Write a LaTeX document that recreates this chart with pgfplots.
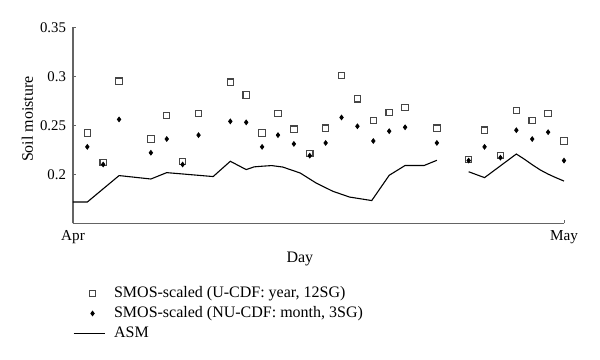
\documentclass[border=0pt]{standalone}
\usepackage{pgfplots}
\pgfplotsset{compat=1.18}
\usepackage{fontspec}
\setmainfont{Liberation Serif}
\definecolor{axisgray}{RGB}{100,100,100}
\definecolor{sqgray}{RGB}{70,70,70}
\pgfplotsset{
  markleg/.style={legend image code/.code={\path (0pt,0pt) (15.5pt,0pt); \draw[##1] plot coordinates {(9.5pt,0pt)};}},
  lineleg/.style={legend image code/.code={\draw[##1] (0pt,0pt) -- (15.5pt,0pt);}},
}
\begin{document}
\begin{tikzpicture}[font=\fontsize{8}{9.6}\selectfont]
\path[use as bounding box] (0,0) rectangle (300pt,179.5pt);
\begin{axis}[
  at={(36.5pt,67.85pt)}, anchor=south west,
  scale only axis, width=245.5pt, height=98pt,
  xmin=0.1, xmax=31, ymin=0.15, ymax=0.35,
  axis x line*=bottom, axis y line*=left,
  axis line style={draw=axisgray, line width=0.6pt},
  tick align=inside, major tick length=1.7pt,
  tick style={draw=axisgray, line width=0.5pt},
  xtick={0.1,31}, xticklabels={Apr,May},
  ytick={0.2,0.25,0.3,0.35},
  yticklabel style={/pgf/number format/fixed, font=\fontsize{7.4}{8.8}\selectfont},
  xticklabel style={font=\fontsize{7.6}{9}\selectfont},
  /pgf/number format/assume math mode=true,
  minor tick num=0,
  xlabel={Day}, ylabel={Soil moisture},
  xlabel style={at={(axis description cs:0.462,-0.184)}, anchor=center},
  ylabel style={at={(axis description cs:-0.0927,0.532)}, anchor=center},
  unbounded coords=jump,
  legend cell align=left,
  legend style={draw=none, fill=none, inner sep=0pt, outer sep=0pt,
    at={(axis description cs:0,-0.312)}, anchor=north west,
    row sep=1pt, column sep=4pt,
    nodes={inner sep=0.5pt, text height=6pt, text depth=2pt}},
]
\addplot[only marks, mark=square, mark size=1.6pt, mark options={draw=sqgray, line width=0.55pt}, markleg] coordinates {
(1,0.242) (2,0.212) (3,0.295) (5,0.236) (6,0.260) (7,0.213) (8,0.262)
(10,0.294) (11,0.281) (12,0.242) (13,0.262) (14,0.246) (15,0.221) (16,0.247)
(17,0.301) (18,0.277) (19,0.255) (20,0.263) (21,0.268) (23,0.247)
(25,0.215) (26,0.245) (27,0.219) (28,0.265) (29,0.255) (30,0.262) (31,0.234)
};
\addlegendentry{SMOS-scaled (U-CDF: year, 12SG)}
\addplot[only marks, mark=diamond*, mark size=1.15pt, mark options={fill=black, draw=black}, markleg] coordinates {
(1,0.228) (2,0.210) (3,0.256) (5,0.222) (6,0.236) (7,0.210) (8,0.240)
(10,0.254) (11,0.253) (12,0.228) (13,0.240) (14,0.231) (15,0.219) (16,0.232)
(17,0.258) (18,0.249) (19,0.234) (20,0.244) (21,0.248) (23,0.232)
(25,0.214) (26,0.228) (27,0.217) (28,0.245) (29,0.236) (30,0.243) (31,0.214)
};
\addlegendentry{SMOS-scaled (NU-CDF: month, 3SG)}
\addplot[black, line width=0.55pt, mark=none, lineleg] coordinates {
(0.1,0.1717) (1,0.1717) (3,0.1987) (5,0.1952) (6,0.2017) (8.92,0.1977)
(10,0.2133) (11,0.2048) (11.5,0.2076) (12.05,0.2083) (12.6,0.2089) (13.3,0.2074)
(14.4,0.2013) (15.4,0.1911) (16.45,0.1827) (17.5,0.1768) (18.9,0.1732)
(20,0.199) (21,0.209) (22.2,0.209) (23,0.2143)
(24,nan)
(25,0.2026) (26,0.1966) (28,0.2207) (28.5,0.2155) (29,0.2098) (29.5,0.2045)
(30,0.2002) (30.5,0.1965) (31,0.1931)
};
\addlegendentry{ASM}
\end{axis}
\end{tikzpicture}
\end{document}
